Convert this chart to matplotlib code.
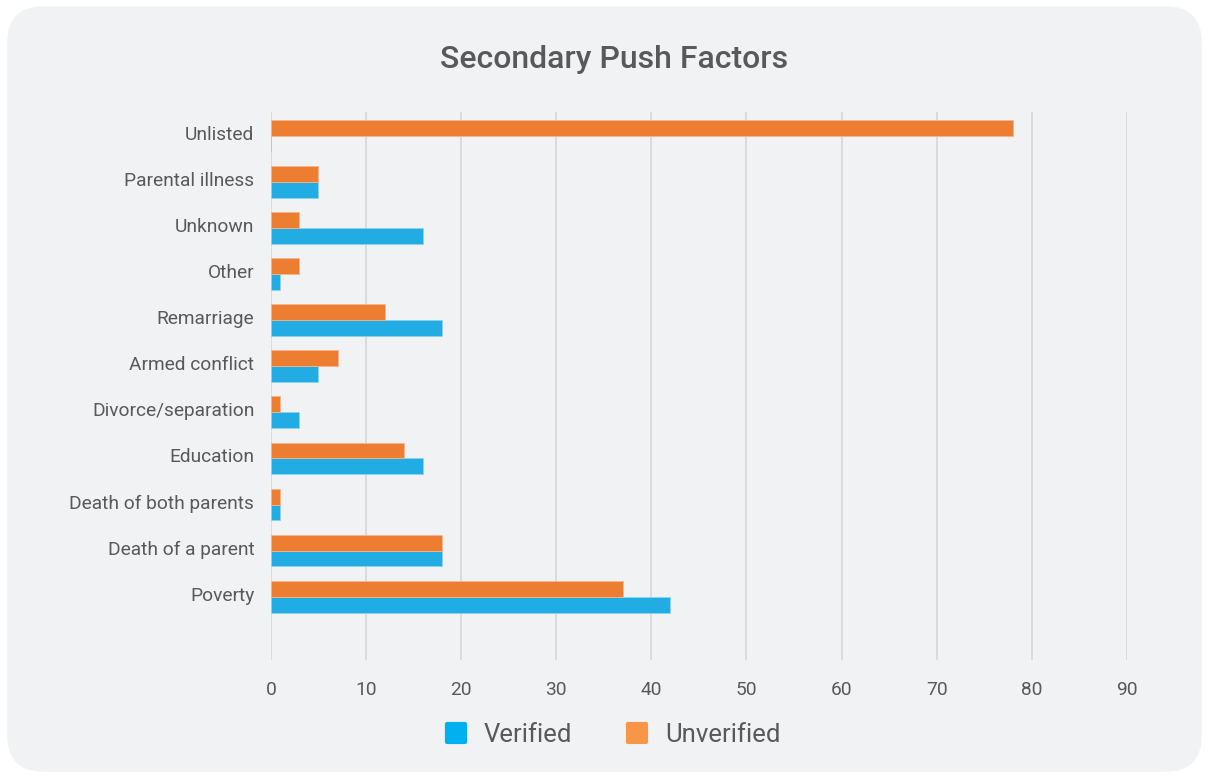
import matplotlib.pyplot as plt
from matplotlib.patches import FancyBboxPatch
from matplotlib.lines import Line2D
from matplotlib.markers import MarkerStyle
from matplotlib.transforms import ScaledTranslation
import numpy as np

# datos (de abajo hacia arriba)
categories = ["Poverty", "Death of a parent", "Death of both parents", "Education",
              "Divorce/separation", "Armed conflict", "Remarriage", "Other",
              "Unknown", "Parental illness", "Unlisted"]
verified = [42, 18, 1, 16, 3, 5, 18, 1, 16, 5, 0]
unverified = [37, 18, 1, 14, 1, 7, 12, 3, 3, 5, 78]
xticks = [0, 10, 20, 30, 40, 50, 60, 70, 80, 90]

blue = "#21ade3"
orange = "#ed7d31"
text_col = "#595959"
bg = "#f1f2f4"

plt.rcParams['font.family'] = ['Roboto', 'DejaVu Sans']

fig = plt.figure(figsize=(12.09, 7.78), dpi=100)
fig.patch.set_facecolor("white")
panel = FancyBboxPatch((0.006, 0.008), 0.988, 0.984, boxstyle="round,pad=0,rounding_size=0.03",
                       transform=fig.transFigure, facecolor=bg, edgecolor="none",
                       mutation_aspect=1209/778, zorder=-5)
fig.patches.append(panel)

ax = fig.add_axes([0.2241, 0.152, 0.708, 0.704])
ax.set_facecolor("none")
ax.set_zorder(1)

y = np.arange(len(categories))
h = 0.345
ax.barh(y - h/2, verified, height=h, color=blue, edgecolor="#8fd3ee", linewidth=0.6, zorder=3)
ax.barh(y + h/2, unverified, height=h, color=orange, edgecolor="#f4b48f", linewidth=0.6, zorder=3)

ax.set_xlim(0, 90)
ax.set_ylim(-1.37, 10.52)
ax.set_xticks(xticks)
ax.set_yticks(y)
ax.set_yticklabels(categories)
ax.grid(axis="x", color="#d9d9d9", linewidth=1.3, zorder=0)
for s in ax.spines.values():
    s.set_visible(False)
ax.tick_params(axis="both", length=0, labelsize=13.8, colors=text_col)
ax.tick_params(axis="x", pad=15)
ax.tick_params(axis="y", pad=12)
# subir un poco las etiquetas
off = ScaledTranslation(0, 3 / 100, fig.dpi_scale_trans)
for lbl in ax.get_yticklabels():
    lbl.set_va("center_baseline")
    lbl.set_transform(lbl.get_transform() + off)

fig.text(0.5075, 0.923, "Secondary Push Factors", ha="center", va="center",
         fontsize=23, color=text_col, fontweight="medium")

handles = [
    Line2D([], [], linestyle="none", marker=MarkerStyle("s", joinstyle="round"),
           markersize=13, color="#00b0f0", markeredgewidth=3, label="Verified"),
    Line2D([], [], linestyle="none", marker=MarkerStyle("s", joinstyle="round"),
           markersize=13, color="#f79646", markeredgewidth=3, label="Unverified"),
]
leg = fig.legend(handles=handles, loc="center", bbox_to_anchor=(0.506, 0.055), ncol=2,
                 frameon=False, fontsize=18.5, labelcolor=text_col,
                 handletextpad=0.6, columnspacing=2.0, handlelength=1.0)

fig.savefig("out.png", dpi=100, facecolor=fig.get_facecolor())
